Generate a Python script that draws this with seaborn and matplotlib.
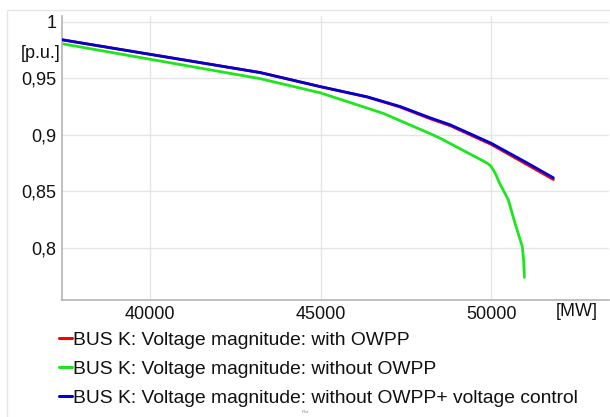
import numpy as np
import pandas as pd
import matplotlib
matplotlib.use("Agg")
import matplotlib.pyplot as plt
from matplotlib.patches import Rectangle
from matplotlib.lines import Line2D
from matplotlib.ticker import FuncFormatter
import seaborn as sns

# Load (MW) and bus voltage (p.u.) for each case
labels = [
    "BUS K: Voltage magnitude: with OWPP",
    "BUS K: Voltage magnitude: without OWPP",
    "BUS K: Voltage magnitude: without OWPP+ voltage control",
]

p_with = [37420, 41470, 43230, 45000, 46360, 47330, 48210, 48800, 50000, 51000, 51820]
v_with = [0.984, 0.9638, 0.955, 0.9425, 0.9334, 0.9245, 0.9142, 0.908, 0.8915, 0.8745, 0.8605]

p_without = [37420, 43230, 45000, 46830, 48210, 48500, 49880, 49980, 50060, 50140, 50230,
             50500, 50650, 50910, 50945, 50970]
v_without = [0.9805, 0.9496, 0.937, 0.919, 0.901, 0.897, 0.875, 0.8725, 0.869, 0.8645, 0.858,
             0.8425, 0.8265, 0.801, 0.790, 0.774]

p_ctrl = [37420, 41470, 43230, 45000, 46360, 47330, 48210, 48800, 50000, 51000, 51820]
v_ctrl = [0.984, 0.9638, 0.955, 0.9425, 0.9336, 0.925, 0.915, 0.9088, 0.8925, 0.876, 0.862]

colors = ["#ff0000", "#1ee61e", "#0000d2"]

df = pd.concat([
    pd.DataFrame({"P": p_with, "V": v_with, "case": labels[0]}),
    pd.DataFrame({"P": p_without, "V": v_without, "case": labels[1]}),
    pd.DataFrame({"P": p_ctrl, "V": v_ctrl, "case": labels[2]}),
], ignore_index=True)

sns.set_style("white")
plt.rcParams["font.family"] = ["Liberation Sans", "DejaVu Sans"]

W, H = 610, 417
fig = plt.figure(figsize=(W / 100, H / 100), dpi=100)

# outer light frame
fig.patches.append(Rectangle((7 / W, -0.01), 1.0, 1 - 10 / H + 0.01, transform=fig.transFigure,
                             fill=False, edgecolor="#e6e6e6", linewidth=1.0))

left, right, top, bottom = 62, 609, 16, 300
ax = fig.add_axes([left / W, 1 - bottom / H, (right - left) / W, (bottom - top) / H])

sns.lineplot(data=df, x="P", y="V", hue="case", palette=dict(zip(labels, colors)),
             hue_order=labels, sort=False, estimator=None, linewidth=2.0, legend=False, ax=ax)

# keep blue on top of red
for ln, z in zip(ax.get_lines(), [2, 2.5, 3]):
    ln.set_zorder(z)
    ln.set_solid_joinstyle("round")

ax.set_xlim(37420, 53450)
ax.set_ylim(0.754, 1.005)
ax.set_xticks([40000, 45000, 50000])
ax.set_yticks([0.8, 0.85, 0.9, 0.95, 1.0])
ax.yaxis.set_major_formatter(FuncFormatter(lambda v, _: f"{v:g}".replace(".", ",")))
ax.xaxis.set_major_formatter(FuncFormatter(lambda v, _: f"{v:.0f}"))
ax.tick_params(axis="both", length=0, labelsize=13, colors="#111111", pad=4)
ax.set_xlabel("")
ax.set_ylabel("")
ax.grid(True, color="#e4e4e4", linewidth=0.9)
for s in ["top", "right"]:
    ax.spines[s].set_visible(False)
for s in ["left", "bottom"]:
    ax.spines[s].set_color("#b4b4b4")
    ax.spines[s].set_linewidth(1.2)

# unit labels
fig.text(60 / W, 1 - 53 / H, "[p.u.]", ha="right", va="center", fontsize=13, color="#111111")
fig.text(577 / W, 1 - 312 / H, "[MW]", ha="center", va="center", fontsize=13, color="#111111")

handles = [Line2D([], [], color=c, linewidth=2.2) for c in colors]
fig.legend(handles, labels, loc="upper left", bbox_to_anchor=(59 / W, 1 - 331 / H),
           frameon=False, fontsize=13.9, handlelength=0.65, handletextpad=0.1,
           labelspacing=0.6, borderpad=0, borderaxespad=0, labelcolor="#111111")

fig.text(305 / W, 1 - 412 / H, "Plot", ha="center", va="center", fontsize=3, color="#888888")

fig.savefig("out.png", dpi=100)
